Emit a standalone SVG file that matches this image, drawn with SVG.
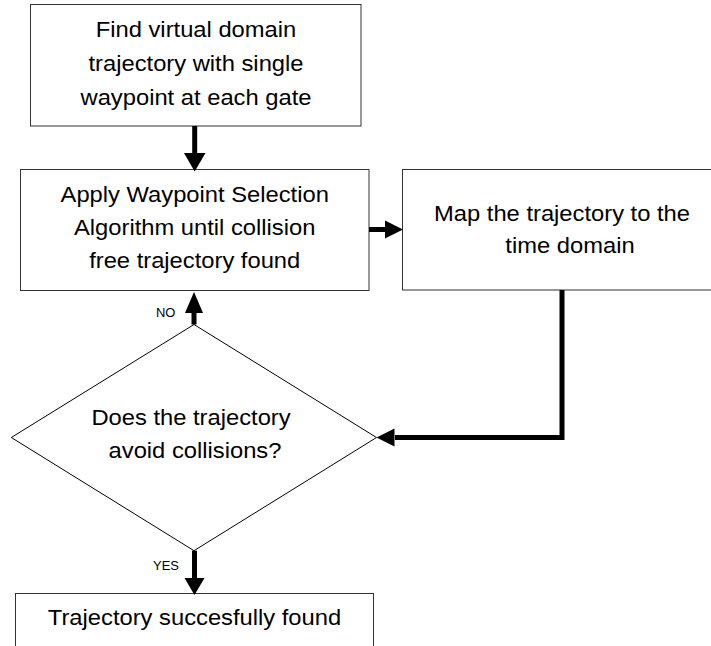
<svg xmlns="http://www.w3.org/2000/svg" width="711" height="646" viewBox="0 0 711 646">
<style>
.box{fill:#fff;stroke:#333;stroke-width:1}
.dia{fill:#fff;stroke:#000;stroke-width:1}
.t{font-family:"Liberation Sans",Arial,sans-serif;font-size:22px;fill:#000;text-anchor:middle}
.s{font-family:"Liberation Sans",Arial,sans-serif;font-size:12px;fill:#000}
.c{fill:none;stroke:#000;stroke-width:5}
.h{fill:#000;stroke:none}
</style>
<rect width="711" height="646" fill="#fff"/>
<g id="n1">
<rect class="box" x="30.5" y="4.5" width="330.5" height="121.5"/>
<text class="t" transform="translate(196 36.5) scale(1.08 1)">Find virtual domain</text>
<text class="t" transform="translate(196 70.5) scale(1.08 1)">trajectory with single</text>
<text class="t" transform="translate(196 104.5) scale(1.08 1)">waypoint at each gate</text>
</g>
<g id="n2">
<rect class="box" x="20.5" y="169.5" width="348.5" height="121"/>
<text class="t" transform="translate(194.7 202.3) scale(1.08 1)">Apply Waypoint Selection</text>
<text class="t" transform="translate(194.7 235) scale(1.08 1)">Algorithm until collision</text>
<text class="t" transform="translate(194.7 268) scale(1.08 1)">free trajectory found</text>
</g>
<g id="n3">
<rect class="box" x="402.5" y="169.5" width="330" height="120.5"/>
<text class="t" transform="translate(562 221) scale(1.08 1)">Map the trajectory to the</text>
<text class="t" transform="translate(570 253) scale(1.08 1)">time domain</text>
</g>
<g id="n4">
<polygon class="dia" points="194,324.5 376.5,437.5 194,550.7 11.3,437.5"/>
<text class="t" transform="translate(191 425) scale(1.08 1)">Does the trajectory</text>
<text class="t" transform="translate(195 458.3) scale(1.08 1)">avoid collisions?</text>
</g>
<g id="n5">
<rect class="box" x="15.5" y="593.5" width="358" height="70"/>
<text class="t" transform="translate(194.5 625) scale(1.08 1)">Trajectory succesfully found</text>
</g>
<g id="connectors">
<line class="c" x1="194.7" y1="126" x2="194.7" y2="154"/>
<polygon class="h" points="184,153 205.5,153 194.7,171.5"/>
<line class="c" x1="369" y1="229.5" x2="386" y2="229.5"/>
<polygon class="h" points="385,220.5 385,238.5 403,229.5"/>
<path class="c" d="M562 290 V437.5 H395"/>
<polygon class="h" points="394.5,428.5 394.5,446.5 376.5,437.5"/>
<line class="c" x1="194" y1="324.5" x2="194" y2="312"/>
<polygon class="h" points="185,313 203,313 194,292"/>
<line class="c" x1="194.5" y1="550.7" x2="194.5" y2="579"/>
<polygon class="h" points="184.5,578 204.5,578 194.5,595"/>
<text class="s" transform="translate(156 316.5) scale(1.08 1)">NO</text>
<text class="s" transform="translate(153 570) scale(1.08 1)">YES</text>
</g>
</svg>
